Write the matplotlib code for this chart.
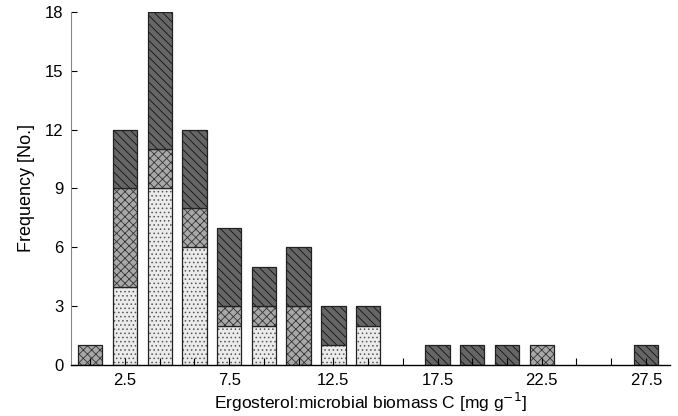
import numpy as np
import matplotlib.pyplot as plt

# Klassen (Balkenpositionen) und Häufigkeiten je Gruppe
bins = np.arange(1, 18)
light = np.array([0, 4, 9, 6, 2, 2, 0, 1, 2, 0, 0, 0, 0, 0, 0, 0, 0])
middle = np.array([1, 5, 2, 2, 1, 1, 3, 0, 0, 0, 0, 0, 0, 1, 0, 0, 0])
dark = np.array([0, 3, 7, 4, 4, 2, 3, 2, 1, 0, 1, 1, 1, 0, 0, 0, 1])

tick_pos = [2, 5, 8, 11, 14, 17]
tick_labels = ['2.5', '7.5', '12.5', '17.5', '22.5', '27.5']
y_ticks = [0, 3, 6, 9, 12, 15, 18]

plt.rcParams['font.family'] = ['Liberation Sans', 'DejaVu Sans']
plt.rcParams['hatch.linewidth'] = 0.6

fig = plt.figure(figsize=(6.78, 4.16), dpi=100)
ax = fig.add_axes([0.105, 0.1226, 0.883, 0.8486])

layers = [
    (light, '#ebebeb', '....', '#555555'),
    (middle, '#a8a8a8', 'xxxx', '#333333'),
    (dark, '#666666', '\\\\\\\\', '#111111'),
]
bottom = np.zeros(len(bins))
for vals, fc, hatch, hc in layers:
    m = vals > 0
    ax.bar(bins[m], vals[m], bottom=bottom[m], width=0.7,
           color=fc, hatch=hatch, edgecolor=hc, linewidth=0)
    # Umriss separat zeichnen
    ax.bar(bins[m], vals[m], bottom=bottom[m], width=0.7,
           fill=False, edgecolor='#222222', linewidth=0.9)
    bottom += vals

ax.set_xlim(0.45, 17.69)
ax.set_ylim(0, 18)
ax.set_xticks(bins, minor=True)
ax.set_xticks(tick_pos)
ax.set_xticklabels(tick_labels)
ax.set_yticks(y_ticks)

ax.tick_params(axis='x', which='major', direction='in', length=5, width=0.8, labelsize=12, pad=5.5)
ax.tick_params(axis='x', which='minor', direction='in', length=5, width=0.8)
ax.tick_params(axis='y', direction='in', length=4, width=0.8, labelsize=12, pad=5.5)

for side in ['top', 'right']:
    ax.spines[side].set_visible(False)
ax.spines['left'].set_color('#888888')
ax.spines['left'].set_linewidth(0.8)
ax.spines['bottom'].set_linewidth(1.0)

ax.set_xlabel('Ergosterol:microbial biomass C [mg g$^{-1}$]', fontsize=12.5, labelpad=2)
ax.set_ylabel('Frequency [No.]', fontsize=13, labelpad=7)

plt.savefig('out.png', dpi=100)
